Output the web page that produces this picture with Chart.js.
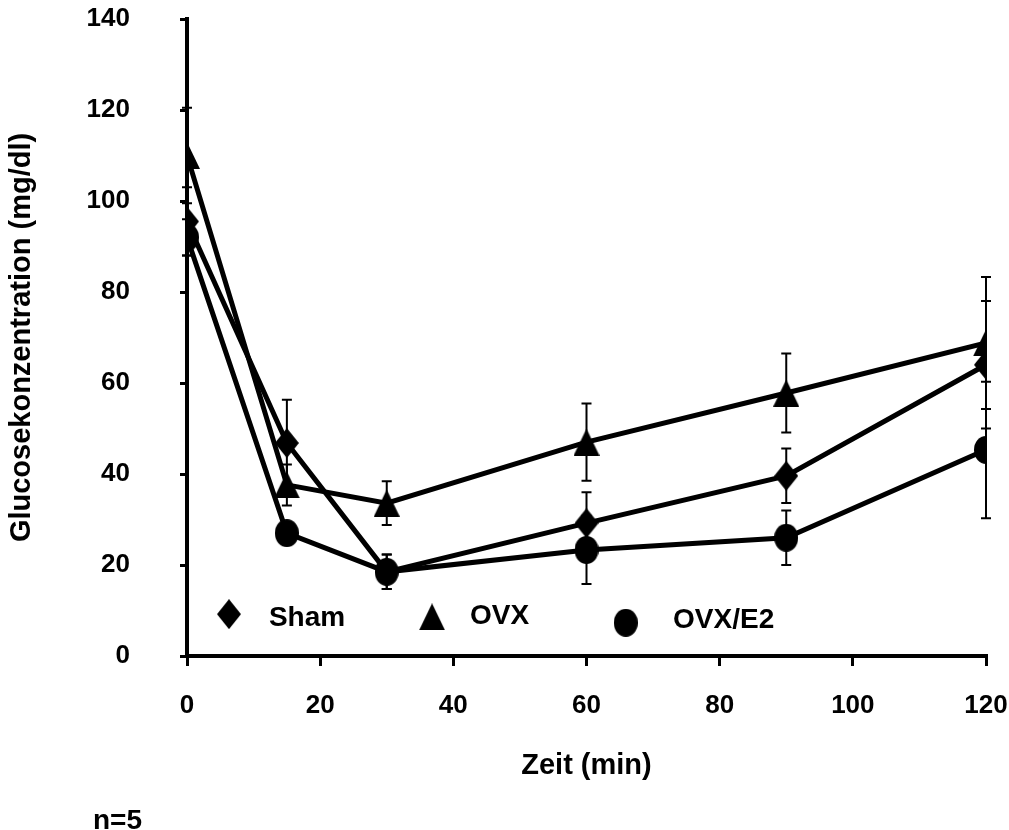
<!DOCTYPE html>
<html>
<head>
<meta charset="utf-8">
<script src="https://cdn.jsdelivr.net/npm/chart.js@4.4.1/dist/chart.umd.min.js"></script>
<style>
  html, body { margin: 0; padding: 0; background: #fff; }
  #wrap { width: 1009px; height: 830px; position: relative; }
</style>
</head>
<body>
<div id="wrap"><canvas id="glucChart" width="1009" height="830"></canvas></div>
<script>
'use strict';
// ---- data ----
var times = [0, 15, 30, 60, 90, 120];
var shamMean = [95.5, 46.8, 18.5, 29.2, 39.6, 64.0];
var shamErr  = [7.5, 9.5, 3.8, 6.8, 6.0, 14.0];
var ovxMean  = [110.0, 37.6, 33.6, 47.0, 57.8, 68.8];
var ovxErr   = [10.5, 4.5, 4.8, 8.5, 8.7, 14.5];
var e2Mean   = [92.0, 27.0, 18.5, 23.3, 26.0, 45.3];
var e2Err    = [4.0, 2.0, 3.8, 7.5, 6.0, 15.0];
var labels   = ['Sham', 'OVX', 'OVX/E2'];

function pts(mean, err) {
	return times.map(function(t, i) { return { x: t, y: mean[i], e: err[i] }; });
}

var FONT = '"Liberation Sans", Arial, sans-serif';

/*----marker shapes (slightly tall, like the original)----*/
function shape(w, h, draw) {
	var cv = document.createElement('canvas');
	cv.width = w; cv.height = h;
	var g = cv.getContext('2d');
	g.fillStyle = '#000';
	g.beginPath();
	draw(g, w, h);
	g.fill();
	return cv;
}
var diamond = shape(24, 30, function(g, w, h) {
	g.moveTo(w / 2, 0); g.lineTo(w, h / 2); g.lineTo(w / 2, h); g.lineTo(0, h / 2); g.closePath();
});
var triangle = shape(26, 27, function(g, w, h) {
	g.moveTo(w / 2, 0); g.lineTo(w, h); g.lineTo(0, h); g.closePath();
});
var ellipse = shape(24, 28, function(g, w, h) {
	g.ellipse(w / 2, h / 2, w / 2, h / 2, 0, 0, Math.PI * 2);
});
var markers = [diamond, triangle, ellipse];

/*----error bars----*/
var errorBars = {
	id: 'errorBars',
	beforeDatasetsDraw: function(chart) {
		var c = chart.ctx, ys = chart.scales.y, xs = chart.scales.x;
		c.save();
		c.strokeStyle = '#000';
		c.lineWidth = 2;
		chart.data.datasets.forEach(function(ds) {
			ds.data.forEach(function(p) {
				var px = xs.getPixelForValue(p.x);
				var top = ys.getPixelForValue(p.y + p.e);
				var bot = ys.getPixelForValue(p.y - p.e);
				c.beginPath();
				c.moveTo(px, top); c.lineTo(px, bot);
				c.moveTo(px - 5, top); c.lineTo(px + 5, top);
				c.moveTo(px - 5, bot); c.lineTo(px + 5, bot);
				c.stroke();
			});
		});
		c.restore();
	}
};

/*----legend inside plot + note----*/
var innerLegend = {
	id: 'innerLegend',
	afterDraw: function(chart) {
		var c = chart.ctx, xs = chart.scales.x, ys = chart.scales.y;
		var items = [
			{ x: 6.3, y: 9.2, tx: 12.3, ty: 8.6 },
			{ x: 36.8, y: 8.6, tx: 42.5, ty: 9.0 },
			{ x: 65.9, y: 7.3, tx: 73.0, ty: 8.1 }
		];
		c.save();
		c.font = 'bold 28px ' + FONT;
		c.fillStyle = '#000';
		c.textBaseline = 'middle';
		c.textAlign = 'left';
		items.forEach(function(it, i) {
			var m = markers[i];
			var px = xs.getPixelForValue(it.x), py = ys.getPixelForValue(it.y);
			c.drawImage(m, px - m.width / 2, py - m.height / 2);
			c.fillText(labels[i], xs.getPixelForValue(it.tx), ys.getPixelForValue(it.ty) + 1);
		});
		c.fillText('n=5', 93, 821);
		c.restore();
	}
};

var ctx = document.getElementById('glucChart').getContext('2d');
var myChart = new Chart(ctx, {
	type: 'line',
	data: {
		datasets: [{
			label: labels[0],
			data: pts(shamMean, shamErr),
			pointStyle: diamond
		}, {
			label: labels[1],
			data: pts(ovxMean, ovxErr),
			pointStyle: triangle
		}, {
			label: labels[2],
			data: pts(e2Mean, e2Err),
			pointStyle: ellipse
		}].map(function(d) {
			d.borderColor = '#000';
			d.backgroundColor = '#000';
			d.borderWidth = 5;
			d.pointRadius = 12;
			d.tension = 0;
			return d;
		})
	},
	options: {
		responsive: false,
		animation: false,
		devicePixelRatio: 1,
		layout: { padding: { top: 19, right: 23, left: 0, bottom: 43 } },
		plugins: {
			legend: { display: false },
			tooltip: { enabled: false }
		},
		scales: {
			x: {
				type: 'linear',
				min: 0, max: 120,
				afterFit: function(s) {
					s.height = 131;
					s.paddingLeft = 0; s.paddingRight = 0; s.paddingTop = 0; s.paddingBottom = 0;
				},
				border: { color: '#000', width: 4 },
				grid: { drawOnChartArea: false, drawTicks: true, tickLength: 10, color: '#000', lineWidth: 3 },
				ticks: { stepSize: 20, color: '#000', padding: 24, font: { family: FONT, size: 26, weight: 'bold' } },
				title: { display: true, text: 'Zeit (min)', color: '#000', font: { family: FONT, size: 29, weight: 'bold' } }
			},
			y: {
				min: 0, max: 140,
				afterFit: function(s) {
					s.width = 187;
					s.paddingLeft = 0; s.paddingRight = 0; s.paddingTop = 0; s.paddingBottom = 0;
				},
				border: { color: '#000', width: 4 },
				grid: { drawOnChartArea: false, drawTicks: true, tickLength: 7, color: '#000', lineWidth: 3 },
				ticks: { stepSize: 20, color: '#000', padding: 50, font: { family: FONT, size: 26, weight: 'bold' } },
				title: { display: true, text: 'Glucosekonzentration (mg/dl)', color: '#000', padding: { top: 5 }, font: { family: FONT, size: 29, weight: 'bold' } }
			}
		}
	},
	plugins: [errorBars, innerLegend]
});
</script>
</body>
</html>
